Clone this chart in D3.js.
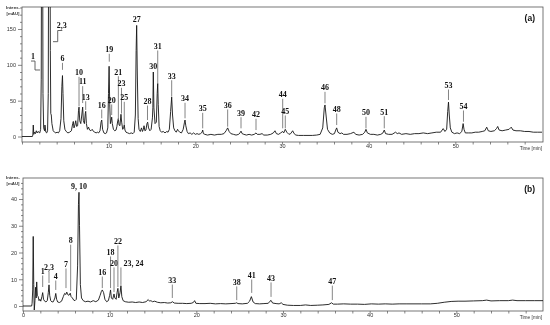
<!DOCTYPE html>
<html>
<head>
<meta charset="utf-8">
<script src="https://cdn.jsdelivr.net/npm/d3@7"></script>
<style>
  body { margin: 0; background: #fff; }
  svg { display: block; filter: grayscale(1); }
</style>
</head>
<body>
<svg id="chart"></svg>
<script>
// ---- panel (a) trace: [time (min), intensity (mAU)] ----
const traceA = [
  [0, 0], [1.2, 0], [1.25, 2], [1.3, 16], [1.36, 3], [1.45, 6], [1.55, 4], [1.65, 8], [1.75, 5],
  [1.85, 7], [1.95, 6], [2.05, 5], [2.15, 10], [2.22, 80], [2.28, 400], [2.36, 400], [2.42, 60],
  [2.5, 12], [2.6, 8], [2.65, 16], [2.75, 6], [2.85, 5], [2.95, 8], [3.03, 60], [3.1, 400],
  [3.2, 400], [3.27, 120], [3.32, 32], [3.38, 30], [3.45, 18], [3.6, 8], [3.75, 6], [3.9, 5],
  [4.05, 6], [4.2, 5], [4.35, 8], [4.5, 25], [4.6, 70], [4.67, 85], [4.73, 60], [4.82, 22],
  [4.95, 10], [5.1, 7], [5.3, 5], [5.5, 6], [5.7, 8], [5.85, 18], [5.92, 21], [6.0, 12],
  [6.1, 16], [6.2, 22], [6.3, 14], [6.42, 15], [6.52, 36], [6.58, 41], [6.66, 22], [6.78, 18],
  [6.9, 30], [7.0, 41], [7.08, 22], [7.2, 18], [7.3, 32], [7.35, 35], [7.43, 18], [7.55, 10],
  [7.68, 13], [7.8, 9], [7.95, 8], [8.1, 10], [8.25, 7], [8.4, 6], [8.55, 5], [8.7, 6],
  [8.85, 5], [9.0, 8], [9.12, 20], [9.2, 23], [9.3, 10], [9.45, 5], [9.6, 4], [9.75, 5],
  [9.9, 12], [9.98, 60], [10.05, 98], [10.12, 45], [10.2, 18], [10.28, 22], [10.35, 27],
  [10.42, 18], [10.55, 10], [10.7, 8], [10.85, 9], [10.95, 14], [11.05, 22], [11.12, 25],
  [11.2, 16], [11.3, 15], [11.42, 31], [11.5, 20], [11.62, 10], [11.72, 12], [11.8, 16],
  [11.88, 9], [12.0, 6], [12.2, 5], [12.4, 4], [12.6, 5], [12.8, 4], [12.95, 6], [13.08, 30],
  [13.17, 120], [13.23, 155], [13.3, 90], [13.4, 25], [13.5, 10], [13.65, 7], [13.79, 12],
  [13.9, 7], [14.0, 10], [14.08, 15], [14.18, 8], [14.3, 9], [14.42, 18], [14.5, 20],
  [14.6, 12], [14.75, 8], [14.9, 10], [15.05, 26], [15.1, 40], [15.15, 90], [15.22, 40],
  [15.35, 18], [15.5, 20], [15.6, 60], [15.66, 74], [15.72, 45], [15.82, 14], [15.95, 8],
  [16.1, 6], [16.3, 7], [16.5, 5], [16.7, 7], [16.85, 6], [17.0, 10], [17.15, 35], [17.27, 55],
  [17.37, 30], [17.5, 12], [17.65, 8], [17.8, 6], [17.95, 10], [18.05, 8], [18.2, 6], [18.4, 5],
  [18.6, 10], [18.75, 20], [18.81, 23], [18.9, 15], [19.05, 7], [19.2, 4], [19.4, 5], [19.6, 3],
  [19.8, 5], [20.0, 3], [20.2, 4], [20.4, 3], [20.6, 4], [20.78, 6], [20.85, 9], [20.93, 4],
  [21.1, 3], [21.4, 2], [21.8, 3], [22.2, 2], [22.6, 3], [23.0, 3], [23.3, 4], [23.55, 8],
  [23.73, 12], [23.9, 7], [24.1, 4], [24.4, 3], [24.7, 2], [25.0, 3], [25.15, 5], [25.27, 7.5],
  [25.4, 4], [25.6, 3], [25.9, 2], [26.2, 3], [26.5, 2], [26.8, 3], [27.0, 5], [27.15, 3],
  [27.45, 3], [27.7, 4], [27.9, 2], [28.3, 2], [28.7, 3], [29.0, 5], [29.19, 8], [29.35, 4],
  [29.6, 3], [29.85, 5], [30.08, 7], [30.2, 5], [30.38, 10], [30.55, 6], [30.8, 3], [31.0, 4],
  [31.23, 8], [31.4, 4], [31.6, 2], [31.9, 1.5], [32.5, 1.5], [33.0, 1.5], [33.5, 1.5],
  [34.0, 2], [34.4, 3], [34.7, 12], [34.88, 40], [34.96, 44], [35.08, 30], [35.25, 10],
  [35.5, 5], [35.8, 3], [36.05, 4], [36.2, 9], [36.31, 12], [36.45, 6], [36.7, 4], [36.9, 5],
  [37.1, 3], [37.5, 3], [37.9, 4], [38.3, 6], [38.5, 3], [38.9, 2], [39.3, 3], [39.55, 6],
  [39.69, 10], [39.85, 5], [40.2, 3], [40.6, 3], [41.0, 2], [41.4, 3], [41.65, 5], [41.8, 9],
  [41.95, 4], [42.3, 3], [42.7, 3], [43.1, 6], [43.3, 4], [43.5, 5], [43.8, 3], [44.3, 4],
  [44.8, 3], [45.3, 4], [45.8, 4], [46.3, 5], [46.8, 4], [47.3, 5], [47.8, 6], [48.3, 6],
  [48.6, 11], [48.8, 7], [49.0, 10], [49.12, 35], [49.21, 48], [49.3, 30], [49.42, 12],
  [49.6, 6], [49.9, 4], [50.2, 5], [50.5, 4], [50.75, 7], [50.9, 18], [51.0, 10], [51.15, 5],
  [51.5, 5], [51.9, 5], [52.3, 6], [52.7, 6], [53.1, 7], [53.4, 8], [53.62, 13], [53.8, 8],
  [54.1, 7], [54.5, 8], [54.75, 11], [54.89, 14], [55.05, 9], [55.4, 8], [55.8, 9], [56.2, 10],
  [56.45, 13], [56.65, 9], [57.0, 8], [57.5, 8], [58.0, 7], [58.5, 7], [59.0, 6], [59.5, 6], [60.0, 6]
];

// ---- panel (b) trace ----
const traceB = [
  [0, 0], [1.0, 0], [1.05, 1], [1.12, 6], [1.18, 26], [1.24, 8], [1.3, -1.5], [1.38, 2],
  [1.45, 7], [1.52, 3], [1.58, 9], [1.65, 4], [1.75, 3.5], [1.85, 2], [1.95, 2.5], [2.05, 1.8],
  [2.18, 3.5], [2.27, 5], [2.37, 2.5], [2.5, 1.8], [2.65, 1.5], [2.8, 2], [2.92, 5], [3.0, 7.9],
  [3.08, 4], [3.2, 2], [3.35, 1.5], [3.5, 1.6], [3.68, 3], [3.78, 4.7], [3.88, 2.5], [4.0, 1.5],
  [4.2, 1.3], [4.45, 1.8], [4.65, 3.5], [4.8, 4.7], [4.95, 4.3], [5.05, 5.2], [5.15, 4.3],
  [5.3, 4], [5.45, 4.8], [5.55, 3.5], [5.7, 3], [5.85, 2.2], [6.0, 2], [6.15, 2.5], [6.3, 15],
  [6.4, 38], [6.46, 42.5], [6.52, 30], [6.62, 8], [6.75, 3], [6.95, 2], [7.2, 1.6], [7.5, 1.8],
  [7.8, 1.5], [8.1, 2], [8.4, 1.6], [8.7, 2.2], [8.9, 4], [9.05, 5.5], [9.15, 6], [9.3, 5],
  [9.45, 2.5], [9.65, 1.6], [9.85, 2], [10.0, 4], [10.1, 6], [10.2, 3], [10.35, 2.5], [10.5, 4.5],
  [10.6, 3], [10.75, 2.5], [10.85, 5], [10.95, 6.6], [11.05, 3], [11.2, 5], [11.3, 7.6],
  [11.4, 3.5], [11.55, 2], [11.8, 1.6], [12.2, 1.4], [12.6, 1.5], [13.0, 1.3], [13.4, 1.5],
  [13.8, 1.3], [14.2, 1.6], [14.45, 2.4], [14.6, 1.8], [14.75, 2], [14.95, 1.6], [15.2, 1.8],
  [15.5, 1.4], [15.9, 1.2], [16.3, 1.3], [16.7, 1.1], [17.05, 1.2], [17.25, 1.6], [17.45, 1.1],
  [17.9, 1.0], [18.4, 1.0], [18.9, 0.9], [19.4, 1.0], [19.65, 1.3], [19.8, 2.0], [19.95, 1.0],
  [20.4, 0.9], [21.0, 0.9], [21.6, 1.0], [22.2, 0.8], [22.8, 0.9], [23.4, 0.8], [24.0, 0.9],
  [24.5, 1.0], [24.65, 1.2], [24.8, 0.9], [25.3, 0.8], [25.9, 1.0], [26.15, 1.8], [26.35, 3.5],
  [26.55, 1.5], [26.8, 0.9], [27.3, 0.8], [27.8, 0.9], [28.3, 1.0], [28.5, 1.8], [28.62, 2.1],
  [28.8, 1.1], [29.2, 0.9], [29.55, 0.8], [29.8, 1.2], [30.0, 0.6], [30.5, 0.3], [31.2, 0.2],
  [32.0, 0.2], [32.6, 0.4], [33.2, 0.2], [34.0, 0.3], [34.6, 0.4], [35.3, 0.6], [35.6, 1.2],
  [35.8, 0.7], [36.3, 0.7], [37.0, 0.8], [37.8, 0.7], [38.6, 0.7], [39.4, 0.6], [40.2, 0.8],
  [41.0, 0.7], [41.8, 0.8], [42.6, 0.7], [43.4, 0.8], [44.2, 0.8], [45.0, 0.8], [46.0, 0.8],
  [47.0, 0.8], [47.8, 1.0], [48.6, 1.4], [49.4, 1.7], [50.2, 1.8], [51.0, 1.8], [52.0, 1.9],
  [53.0, 2.0], [53.5, 2.2], [54.0, 1.9], [55.0, 2.0], [56.0, 2.0], [56.5, 2.2], [57.0, 2.0],
  [58.0, 2.0], [59.0, 2.0], [60.0, 2.0]
];

// ---- peak labels: name, time, level of label, level where the leader stops (null = no leader) ----
const peakNamesA = ['6', '10', '11', '13', '16', '19', '20', '21', '23', '25', '27', '28', '30', '31',
  '33', '34', '35', '36', '39', '42', '44', '45', '46', '48', '50', '51', '53', '54'];
const peakTimesA = [4.67, 6.58, 7.0, 7.35, 9.2, 10.07, 10.35, 11.12, 11.48, 11.8, 13.23, 14.48, 15.15, 15.66,
  17.27, 18.81, 20.85, 23.73, 25.27, 27.0, 30.08, 30.38, 34.96, 36.31, 39.69, 41.8, 49.21, 50.94];
const labelLevelA = [109, 89.6, 76.5, 55.5, 44, 121.7, 51, 90.4, 74.2, 54.7, 163.5, 49.5, 97.4, 126.3,
  84.8, 53.3, 39.3, 44, 33.2, 31, 58.9, 35.6, 68.6, 38.4, 33.8, 34.6, 71.9, 42.6];
const tipLevelA = [93, 42, 46.7, 37, 25.4, 104.4, 30, 23, 32, 16, null, 23, null, 74.2,
  55.5, 25.4, 11.4, 13.7, 11.4, 9, 11.4, 11.4, 46.3, 16, 11.4, 11.4, 50.9, 20.6];

// bracket labels for the two off-scale peaks in (a)
const bracketNamesA = ['1', '2,3'];
const bracketTextA = [[1.27, 112.3], [4.58, 154.9]];
const bracketPathsA = [
  [[1.04, 105.3], [1.5, 105.3], [1.5, 92.8], [2.08, 92.8]],
  [[4.65, 147.9], [4.12, 147.9], [4.12, 132.3], [3.58, 132.3]]
];

const peakNamesB = ['1', '2,3', '4', '7', '8', '9, 10', '16', '18', '20', '22', '23, 24', '33', '38', '41', '43', '47'];
const peakTimesB = [2.27, 3.0, 3.78, 4.96, 5.5, 6.46, 9.15, 10.1, 10.5, 10.95, 11.3, 17.23, 24.66, 26.39, 28.62, 35.69];
const labelLevelB = [13.1, 14.6, 11.2, 15.7, 24.6, 44.6, 12.7, 20.2, 16.1, 24.3, 16.1, 9.7, 9.0, 11.6, 10.5, 9.3];
const tipLevelB = [7.1, 8.6, 6, 6.7, 5.6, null, 6.7, 6.7, 5.2, 7.1, 7.9, 3, 2.2, 4.9, 3.4, 2.2];

const xTicks = d3.range(0, 61, 2);
const yTicksA = d3.range(0, 181, 10);
const yTicksB = d3.range(0, 49, 2);

const svg = d3.select('#chart')
  .attr('width', 550)
  .attr('height', 325);

const lineColor = '#555';

function drawPanel(opt) {
  const g = svg.append('g');
  const x = d3.scaleLinear().domain([0, 60]).range(opt.xRange);
  const y = d3.scaleLinear().domain(opt.yDomain).range(opt.yRange);
  const [left, right] = [opt.xRange[0], opt.frameRight];
  const [top, bottom] = [opt.frameTop, opt.frameBottom];

  g.append('clipPath').attr('id', 'clip' + opt.id)
    .append('rect')
    .attr('x', left).attr('y', top)
    .attr('width', right - left).attr('height', bottom - top);

  // x axis
  const xAxis = d3.axisBottom(x)
    .tickValues(xTicks.filter(t => t < 60))
    .tickSize(2.5)
    .tickFormat(t => (t % 10 === 0 && (t > 0 || opt.showZero)) ? t : '');
  const gx = g.append('g')
    .attr('transform', `translate(0, ${bottom})`)
    .call(xAxis);
  gx.select('.domain').remove();
  gx.selectAll('line').attr('stroke', lineColor).attr('stroke-width', 0.7);
  gx.selectAll('text')
    .attr('font-family', 'Liberation Sans, Arial, sans-serif')
    .attr('font-size', 5.5).attr('fill', '#333')
    .attr('dy', '0.55em').attr('y', 2.5);

  // y axis
  const yAxis = d3.axisLeft(y)
    .tickValues(opt.yTicks.filter(v => y(v) >= top))
    .tickSize(2)
    .tickFormat(v => v % opt.yLabelStep === 0 ? v : '');
  const gy = g.append('g')
    .attr('transform', `translate(${left}, 0)`)
    .call(yAxis);
  gy.select('.domain').remove();
  gy.selectAll('line').attr('stroke', lineColor).attr('stroke-width', 0.7);
  gy.selectAll('.tick')
    .filter(v => v % opt.yLabelStep === 0)
    .select('line').attr('x2', -4);
  gy.selectAll('text')
    .attr('font-family', 'Liberation Sans, Arial, sans-serif')
    .attr('font-size', 5.5).attr('fill', '#333').attr('x', -6);

  // frame
  g.append('rect')
    .attr('x', left).attr('y', top)
    .attr('width', right - left).attr('height', bottom - top)
    .attr('fill', 'none').attr('stroke', lineColor).attr('stroke-width', 0.8);

  // trace
  g.append('path')
    .datum(opt.trace)
    .attr('clip-path', `url(#clip${opt.id})`)
    .attr('fill', 'none')
    .attr('stroke', '#151515')
    .attr('stroke-width', 0.9)
    .attr('stroke-linejoin', 'round')
    .attr('d', d3.line().x(d => x(d[0])).y(d => y(d[1])));

  // peak labels + leader lines
  opt.names.forEach((name, i) => {
    const px = x(opt.times[i]);
    const ty = y(opt.levels[i]);
    const anchorStart = name === '23, 24';
    g.append('text')
      .attr('x', anchorStart ? px + 2.5 : px)
      .attr('y', ty)
      .attr('dy', '0.35em')
      .attr('text-anchor', anchorStart ? 'start' : 'middle')
      .attr('font-family', 'Liberation Serif, Times New Roman, serif')
      .attr('font-weight', 'bold')
      .attr('font-size', 8)
      .attr('fill', '#111')
      .text(name);
    if (opt.tips[i] !== null) {
      g.append('line')
        .attr('x1', px).attr('x2', px)
        .attr('y1', ty + 4.5).attr('y2', y(opt.tips[i]))
        .attr('stroke', '#777').attr('stroke-width', 0.9);
    }
  });

  // axis captions
  const cap = g.append('text')
    .attr('font-family', 'Liberation Sans, Arial, sans-serif')
    .attr('font-size', 4.3).attr('font-weight', 'bold')
    .attr('fill', '#333')
    .attr('text-anchor', 'middle');
  cap.append('tspan').attr('x', 13).attr('y', top + opt.capOffset).text('Intens.');
  cap.append('tspan').attr('x', 13).attr('y', top + opt.capOffset + 6).text('[mAU]');

  g.append('text')
    .attr('x', right - 1).attr('y', bottom + 7.5)
    .attr('text-anchor', 'end')
    .attr('font-family', 'Liberation Sans, Arial, sans-serif')
    .attr('font-size', 4.8).attr('fill', '#333')
    .text('Time [min]');

  g.append('text')
    .attr('x', right - 8).attr('y', top + 14)
    .attr('text-anchor', 'end')
    .attr('font-family', 'Liberation Sans, Arial, sans-serif')
    .attr('font-weight', 'bold')
    .attr('font-size', 8.5).attr('fill', '#111')
    .text(opt.tag);

  return { g, x, y };
}

const panelA = drawPanel({
  id: 'a', tag: '(a)', trace: traceA,
  xRange: [22, 542], frameRight: 543, frameTop: 7, frameBottom: 142,
  yDomain: [0, 150], yRange: [136.5, 29], yTicks: yTicksA, yLabelStep: 50,
  showZero: false, capOffset: 2,
  names: peakNamesA, times: peakTimesA, levels: labelLevelA, tips: tipLevelA
});

// step-shaped leaders for peaks 1 and 2,3 in (a)
bracketNamesA.forEach((name, i) => {
  panelA.g.append('path')
    .datum(bracketPathsA[i])
    .attr('fill', 'none')
    .attr('stroke', '#555').attr('stroke-width', 0.9)
    .attr('d', d3.line().x(d => panelA.x(d[0])).y(d => panelA.y(d[1])));
  panelA.g.append('text')
    .attr('x', panelA.x(bracketTextA[i][0]))
    .attr('y', panelA.y(bracketTextA[i][1]))
    .attr('dy', '0.35em')
    .attr('text-anchor', 'middle')
    .attr('font-family', 'Liberation Serif, Times New Roman, serif')
    .attr('font-weight', 'bold')
    .attr('font-size', 8)
    .attr('fill', '#111')
    .text(name);
});

drawPanel({
  id: 'b', tag: '(b)', trace: traceB,
  xRange: [23, 543], frameRight: 543, frameTop: 178, frameBottom: 311,
  yDomain: [0, 40], yRange: [306, 199], yTicks: yTicksB, yLabelStep: 10,
  showZero: true, capOffset: 1,
  names: peakNamesB, times: peakTimesB, levels: labelLevelB, tips: tipLevelB
});
</script>
</body>
</html>
